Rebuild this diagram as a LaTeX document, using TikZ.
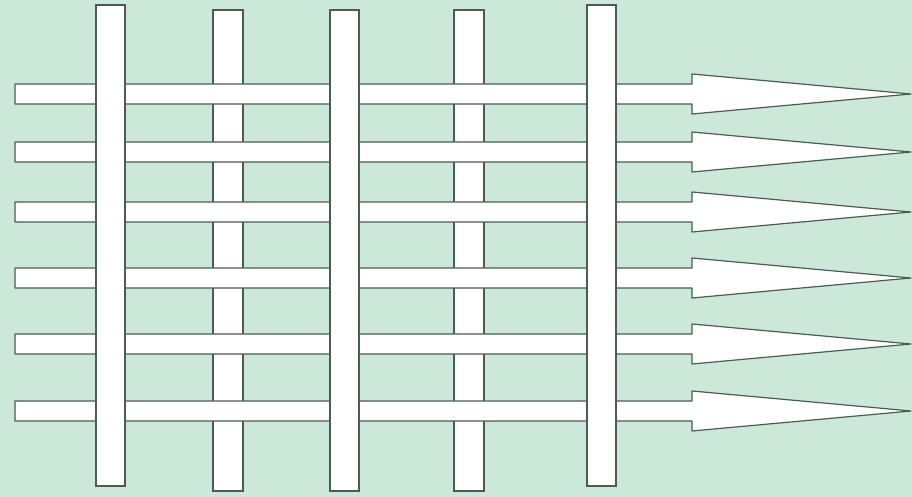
\documentclass[tikz,border=0pt]{standalone}
\usepackage{xcolor}
\definecolor{cBack}{HTML}{CBE8D8}
\definecolor{cEdge}{HTML}{4C5C52}
\usepackage{tikz}
\tikzset{
  warp-bar/.style={draw=cEdge,fill=white,line width=0.6pt},
  weft-arrow/.style={draw=cEdge,fill=white,line width=0.6pt,line join=round},
}

\begin{document}
\begin{tikzpicture}[x=0.5pt,y=-0.5pt]
  % background
  \fill[cBack] (0,0) rectangle (912,497);
  % warp bars lying under the wefts
  \foreach \xl in {213,454}
    \draw[warp-bar] (\xl,10) rectangle ++(30,481);
  % wefts with arrow heads
  \foreach \c in {94,152,212,278,344,411}
    \draw[weft-arrow] (15,\c-10) -- (692,\c-10) -- (692,\c-20) -- (911,\c)
      -- (692,\c+20) -- (692,\c+10) -- (15,\c+10) -- cycle;
  % warp bars lying over the wefts
  \foreach \xl/\yt/\yb in {96/5/486,330/10/491,587/5/486}
    \draw[warp-bar] (\xl,\yt) rectangle (\xl+29,\yb);
\end{tikzpicture}
\end{document}
